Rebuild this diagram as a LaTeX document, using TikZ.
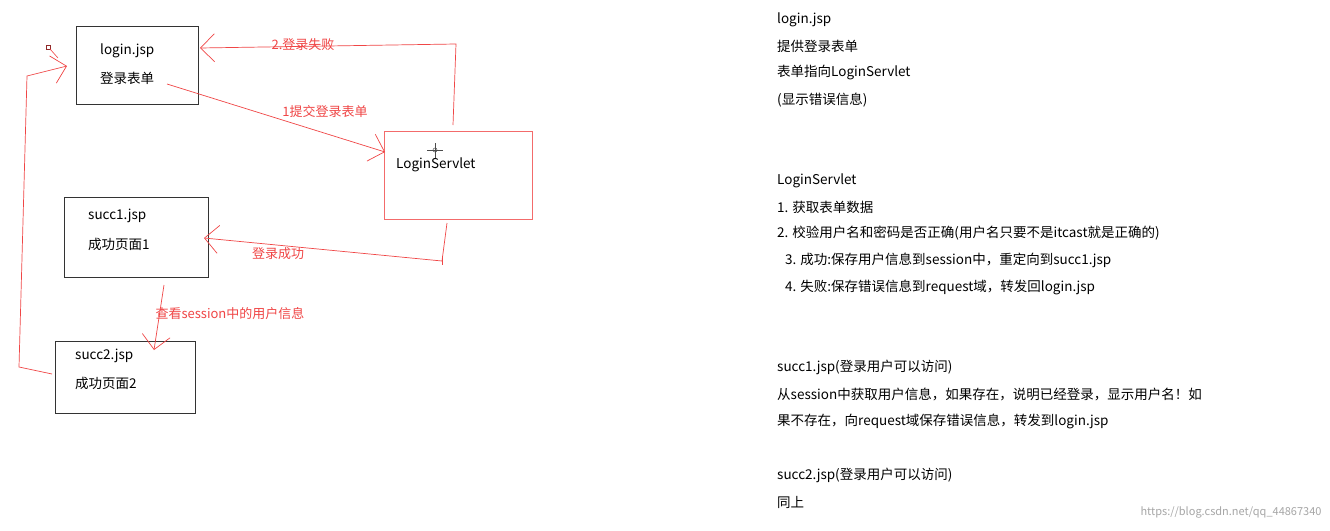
\documentclass[tikz,border=0pt]{standalone}
\usepackage{fontspec}
\setmainfont{Noto Sans CJK SC}
\usetikzlibrary{arrows.meta}
\definecolor{pen}{RGB}{240,70,70}
\begin{document}
\begin{tikzpicture}[x=1pt,y=-1pt,
  box/.style={draw=black!80,line width=0.9pt},
  rbox/.style={draw=pen!80,line width=0.9pt},
  lbl/.style={text=pen,font=\fontsize{13}{15}\selectfont,inner sep=0pt},
  txt/.style={font=\fontsize{13.5}{16}\selectfont,inner sep=0pt,anchor=west},
  wire/.style={draw=pen,line width=0.7pt,-{Straight Barb[length=14pt,width=28pt,line width=0.7pt]}}]
\fill[white] (0,0) rectangle (1330,530);
\useasboundingbox (0,0) rectangle (1330,530);
% boxes
\draw[box] (76,26) rectangle (198,104);
\node[txt] (l1) at (100,51) {login.jsp};
\node[txt] (l2) at (100,78) {登录表单};
\draw[rbox] (384,131) rectangle (532,219);
\node[txt] (ls) at (396,165) {LoginServlet};
\draw[box] (64,197) rectangle (208,277);
\node[txt] (s1) at (88,216) {succ1.jsp};
\node[txt] (s1b) at (88,244) {成功页面1};
\draw[box] (55,341) rectangle (195,413);
\node[txt] (s2) at (75,356) {succ2.jsp};
\node[txt] (s2b) at (75,383) {成功页面2};
% cursor
\draw[black!70,line width=0.6pt] (427,150)--(443,150) (435,143)--(435,158);
\draw[black!70,line width=0.5pt] (435,150) circle (2);
% connectors
\coordinate (a1) at (167,84); \coordinate (a2) at (385,152);
\draw[wire] (a1) -- (a2);
\node[lbl] (t1) at (325,112) {1提交登录表单};
\coordinate (b1) at (453,125); \coordinate (b2) at (456,44); \coordinate (b3) at (200,48);
\draw[wire] (b1) -- (b2) -- (b3);
\node[lbl] (t2) at (303,45) {2.登录失败};
\coordinate (c1) at (447,223); \coordinate (c2) at (442,261); \coordinate (c3) at (204,238);
\draw[wire] (c1) -- (c2) -- (c3);
\draw[pen,line width=0.7pt] (442,256)--(442,265);
\node[lbl] (t3) at (278,254) {登录成功};
\coordinate (d1) at (164,285); \coordinate (d2) at (154,350);
\draw[wire] (d1) -- (d2);
\node[lbl] (t4) at (230,314) {查看session中的用户信息};
\coordinate (e1) at (52,374); \coordinate (e2) at (19,367); \coordinate (e3) at (27,76); \coordinate (e4) at (67,66);
\draw[wire] (e1) -- (e2) -- (e3) -- (e4);
\draw[pen!60!black,line width=0.5pt] (46,45) rectangle (50,49);
\draw[pen,line width=0.6pt] (50,49)--(58,58);
% right text
\node[txt] at (777,20) {login.jsp};
\node[txt] at (777,46) {提供登录表单};
\node[txt] at (777,73) {表单指向LoginServlet};
\node[txt] at (777,100) {(显示错误信息)};
\node[txt] at (777,181) {LoginServlet};
\node[txt] at (777,207) {1. 获取表单数据};
\node[txt] at (777,233) {2. 校验用户名和密码是否正确(用户名只要不是itcast就是正确的)};
\node[txt] at (785,260) {3. 成功:保存用户信息到session中，重定向到succ1.jsp};
\node[txt] at (785,287) {4. 失败:保存错误信息到request域，转发回login.jsp};
\node[txt] at (777,367) {succ1.jsp(登录用户可以访问)};
\node[txt] at (777,394) {从session中获取用户信息，如果存在，说明已经登录，显示用户名！如};
\node[txt] at (777,421) {果不存在，向request域保存错误信息，转发到login.jsp};
\node[txt] at (777,475) {succ2.jsp(登录用户可以访问)};
\node[txt] at (777,502) {同上};
\node[font=\fontsize{11}{13}\selectfont,text=black!35,anchor=east] at (1325,512) {https://blog.csdn.net/qq\_44867340};
\end{tikzpicture}
\end{document}
